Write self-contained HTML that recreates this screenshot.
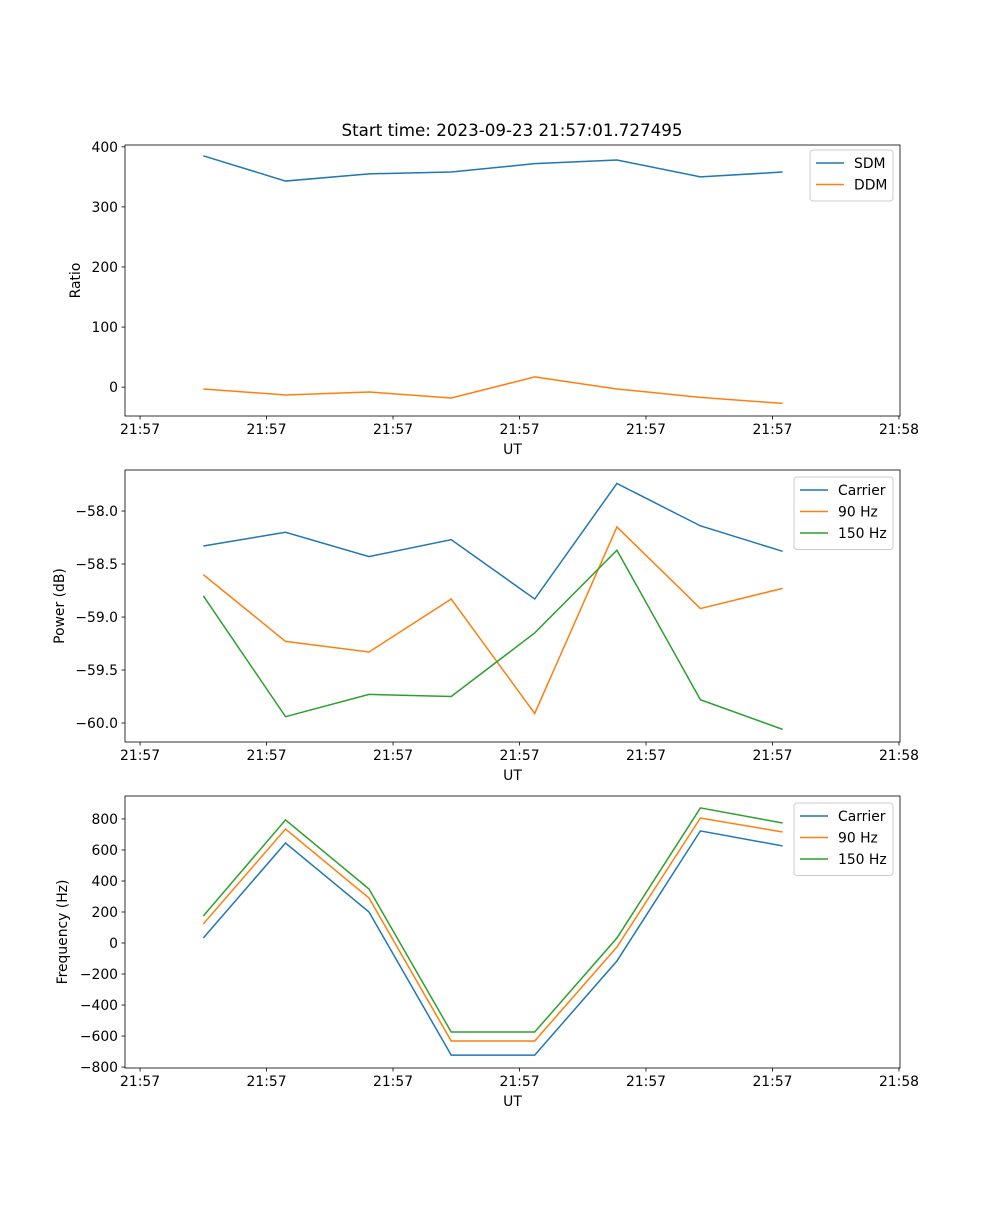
<!DOCTYPE html>
<html><head><meta charset="utf-8"><style>
body{margin:0;background:#fff}
svg text{font-family:"DejaVu Sans","Liberation Sans",sans-serif;font-size:13.9px;fill:#000}
</style></head><body>
<svg id="fig" width="1000" height="1200" xmlns="http://www.w3.org/2000/svg">
<rect width="1000" height="1200" fill="#fff"/>
<text x="512" y="136" text-anchor="middle" style="font-size:16.7px">Start time: 2023-09-23 21:57:01.727495</text>
</svg>
<script>
const times = [5.0, 11.5, 18.1, 24.6, 31.2, 37.7, 44.3, 50.8];
const xTickVals = [0, 10, 20, 30, 40, 50, 60];
const xTickLabels = ["21:57","21:57","21:57","21:57","21:57","21:57","21:58"];
const sdm = [385, 343, 355, 358, 372, 378, 350, 358];
const ddm = [-3, -13, -8, -18, 17, -3, -17, -27];
const pCarrier = [-58.33, -58.2, -58.43, -58.27, -58.83, -57.74, -58.14, -58.38];
const p90 = [-58.6, -59.23, -59.33, -58.83, -59.91, -58.15, -58.92, -58.73];
const p150 = [-58.8, -59.94, -59.73, -59.75, -59.15, -58.37, -59.78, -60.06];
const fCarrier = [32, 645, 200, -723, -723, -116, 723, 626];
const f90 = [123, 735, 290, -632, -632, -26, 806, 716];
const f150 = [174, 794, 348, -574, -574, 32, 871, 774];
const ticks1 = [0, 100, 200, 300, 400];
const ticks2 = [-60.0, -59.5, -59.0, -58.5, -58.0];
const ticks3 = [-800, -600, -400, -200, 0, 200, 400, 600, 800];

const NS="http://www.w3.org/2000/svg";
const svg=document.getElementById('fig');
function mk(t,a,p){const e=document.createElementNS(NS,t);for(const k in a)e.setAttribute(k,a[k]);(p||svg).appendChild(e);return e;}
const L=125,R=900,xmin=-1.19,xmax=60.08;
const xs=v=>L+(v-xmin)/(xmax-xmin)*(R-L);
function panel(name,top,bot,ymin,ymax,yt,fmt,ylabel,series,legend){
  const g=mk('g',{});
  
  
  const ys=v=>bot-(v-ymin)/(ymax-ymin)*(bot-top);
  series.forEach(s=>{
    const pl=mk('polyline',{points:times.map((t,i)=>xs(t)+','+ys(s.v[i])).join(' '),fill:'none',stroke:s.c,'stroke-width':1.5},g);
    
    
  });
  mk('rect',{x:L,y:top,width:R-L,height:bot-top,fill:'none',stroke:'#000','stroke-width':0.8},g);
  xTickVals.forEach((v,i)=>{const x=xs(v);mk('line',{x1:x,x2:x,y1:bot,y2:bot+3.5,stroke:'#000','stroke-width':0.8},g);
    const t=mk('text',{x:x,y:bot+18,'text-anchor':'middle'},g);t.textContent=xTickLabels[i];
    });
  yt.forEach(v=>{const y=ys(v);mk('line',{x1:L-3.5,x2:L,y1:y,y2:y,stroke:'#000','stroke-width':0.8},g);
    const t=mk('text',{x:L-7,y:y+5,'text-anchor':'end'},g);t.textContent=fmt(v);
    });
  const xl=mk('text',{x:(L+R)/2,y:bot+38,'text-anchor':'middle'},g);xl.textContent='UT';
  
  const cy=(top+bot)/2;
  const yl=mk('text',{x:legend.yx,y:cy,'text-anchor':'middle',transform:`rotate(-90 ${legend.yx} ${cy})`},g);yl.textContent=ylabel;
  
  const lg=mk('g',{},g);
  
  mk('rect',{x:legend.x,y:legend.y,width:legend.w,height:8+series.length*21.5,fill:'#fff',stroke:'#ccc',rx:3},lg);
  series.forEach((s,i)=>{const yy=legend.y+13+i*21.5;
    mk('line',{x1:legend.x+6,x2:legend.x+34,y1:yy,y2:yy,stroke:s.c,'stroke-width':1.5},lg);
    const t=mk('text',{x:legend.x+44,y:yy+5},lg);t.textContent=s.n;
    });
}
const B='#1f77b4',O='#ff7f0e',G='#2ca02c';
panel('ratio-panel',145,416,-48,403,ticks1,v=>v===0?'0':String(v),'Ratio',
  [{n:'SDM',v:sdm,c:B},{n:'DDM',v:ddm,c:O}],{x:810,y:150,w:83,yx:80});
panel('power-panel',470,742,-60.179,-57.613,ticks2,v=>'\u2212'+Math.abs(v).toFixed(1),'Power (dB)',
  [{n:'Carrier',v:pCarrier,c:B},{n:'90 Hz',v:p90,c:O},{n:'150 Hz',v:p150,c:G}],{x:794,y:477,w:99,yx:64});
panel('frequency-panel',796,1068,-806,948,ticks3,v=>v<0?'\u2212'+Math.abs(v):String(v),'Frequency (Hz)',
  [{n:'Carrier',v:fCarrier,c:B},{n:'90 Hz',v:f90,c:O},{n:'150 Hz',v:f150,c:G}],{x:794,y:803,w:99,yx:67});
</script>
</body></html>
